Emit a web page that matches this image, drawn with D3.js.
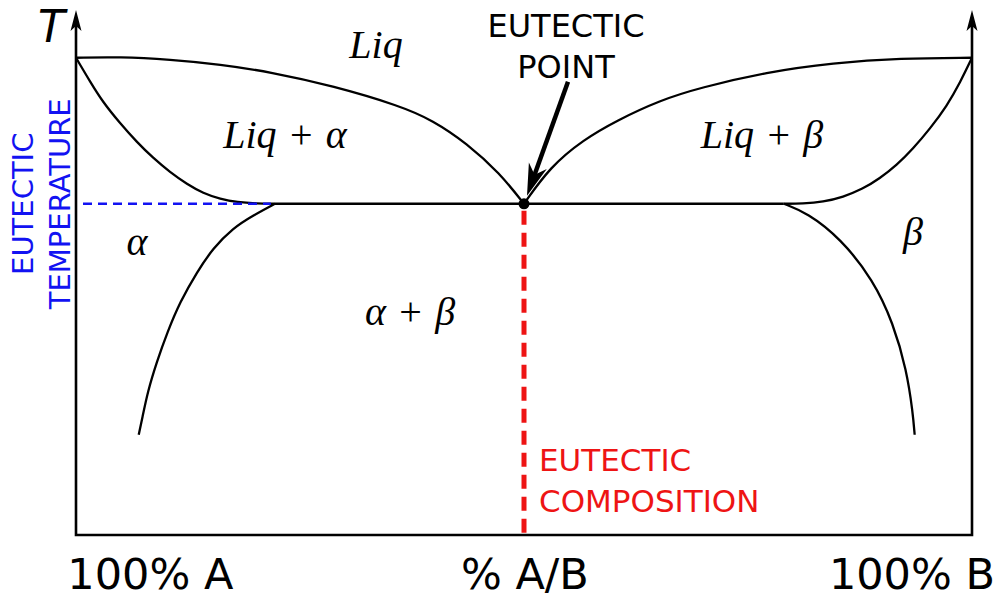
<!DOCTYPE html>
<html><head><meta charset="utf-8">
<script src="https://cdn.jsdelivr.net/npm/d3@7"></script>
<style>body{margin:0;background:#fff}svg{display:block}</style>
</head><body>
<svg id="c" width="999" height="593"></svg>
<script>
// ---- data (composition in % B, temperature in arbitrary units) ----
const compositionDomain = [0, 100];
const temperatureDomain = [0, 110];
const eutecticComposition = 50;
const eutecticTemperature = 69.4;
const leftLiquidus  = [[0,100],[4.9,100.2],[10.5,99.6],[16.1,98.6],[21.7,97.0],[28.7,94.1],[36.2,89.9],[39.8,86.9],[43.6,82.1],[47.3,75.8],[50,69.4]];
const rightLiquidus = [[50,69.4],[52.9,77.1],[56.6,82.8],[60.4,86.9],[65.2,91.1],[69.6,93.7],[77.1,97.0],[84.5,98.9],[92.0,99.9],[100,100]];
const leftSolidus   = [[0,100],[1.6,94.9],[3.0,90.7],[4.9,86.3],[6.8,82.3],[8.6,79.0],[10.5,76.0],[12.4,73.5],[14.2,71.6],[16.1,70.4],[18.0,69.7],[20.2,69.45],[22.2,69.4]];
const rightSolidus  = [[79.0,69.4],[81.1,69.45],[83.4,69.8],[85.6,70.8],[87.8,72.5],[89.7,74.7],[91.6,77.5],[93.4,80.9],[95.3,85.1],[97.2,89.9],[98.7,94.9],[100,100]];
const leftSolvus    = [[22.2,69.4],[19.8,67.0],[17.5,64.3],[15.3,60.1],[13.5,55.1],[11.6,48.8],[10.2,42.5],[9.0,36.2],[8.0,30.0],[7.4,24.5],[7.0,21.0]];
const rightSolvus   = [[79.0,69.4],[81.6,67.5],[85.3,62.2],[89.0,53.4],[91.2,44.4],[92.7,34.6],[93.4,25.6],[93.6,21.0]];
const eutecticLine  = [[22.2,69.4],[79.0,69.4]];
const xTickLabels = ["100% A", "% A/B", "100% B"];
const yAxisLabel = "T";
const regionLabels = ["Liq", "Liq + α", "Liq + β", "α", "α + β", "β"];
const eutecticPointText = ["EUTECTIC", "POINT"];
const eutecticCompositionText = ["EUTECTIC", "COMPOSITION"];
const eutecticTemperatureText = ["EUTECTIC", "TEMPERATURE"];

// ---- layout ----
const svg = d3.select("#c");
const x = d3.scaleLinear().domain(compositionDomain).range([76, 972]);
const y = d3.scaleLinear().domain(temperatureDomain).range([535, 10]);
const curveLine = d3.line().x(d => x(d[0])).y(d => y(d[1])).curve(d3.curveBasis);
const BLUE = "#1212f2", RED = "#ee1414";
const SANS = "'DejaVu Sans', Verdana, sans-serif";
const MATH = "'Liberation Serif', 'DejaVu Serif', serif";

// axes (box without top, with arrows)
const x0 = x(compositionDomain[0]), x1 = x(compositionDomain[1]);
const yb = y(temperatureDomain[0]), yt = y(temperatureDomain[1]);
svg.append("path").attr("d", `M${x0},${yt+14}L${x0},${yb}L${x1},${yb}L${x1},${yt+14}`)
  .attr("fill", "none").attr("stroke", "#000").attr("stroke-width", 2.6);
[x0, x1].forEach(ax => {
  svg.append("path").attr("d", `M${ax},${yt}L${ax-5.5},${yt+21}L${ax},${yt+16}L${ax+5.5},${yt+21}Z`).attr("fill", "#000");
});

// phase boundaries
[leftLiquidus, rightLiquidus, leftSolidus, rightSolidus, leftSolvus, rightSolvus, eutecticLine].forEach(d => {
  svg.append("path").attr("d", curveLine(d)).attr("fill", "none").attr("stroke", "#000")
    .attr("stroke-width", 2.3).attr("stroke-linejoin", "round");
});

// eutectic temperature dashed (blue)
svg.append("line").attr("x1", x0 + 7).attr("x2", x(leftSolidus[leftSolidus.length-1][0]) - 4)
  .attr("y1", y(eutecticTemperature)).attr("y2", y(eutecticTemperature))
  .attr("stroke", BLUE).attr("stroke-width", 2.4).attr("stroke-dasharray", "9,6");

// eutectic composition dashed (red)
svg.append("line").attr("x1", x(eutecticComposition)).attr("x2", x(eutecticComposition))
  .attr("y1", y(eutecticTemperature) + 7).attr("y2", yb)
  .attr("stroke", RED).attr("stroke-width", 5).attr("stroke-dasharray", "14,8");

// eutectic point
svg.append("circle").attr("cx", x(eutecticComposition)).attr("cy", y(eutecticTemperature)).attr("r", 5.5).attr("fill", "#000");

// arrow to eutectic point
(function(){
  const tx = x(eutecticComposition) + 3, ty = y(eutecticTemperature) - 8;
  const sx = tx + 41, sy = ty - 114;
  const dx = tx - sx, dy = ty - sy, L = Math.hypot(dx, dy);
  const ux = dx / L, uy = dy / L, px = -uy, py = ux;
  const hl = 32, hw = 9.5;
  const bx = tx - ux * hl, by = ty - uy * hl;
  svg.append("line").attr("x1", sx).attr("y1", sy).attr("x2", tx - ux*12).attr("y2", ty - uy*12)
    .attr("stroke", "#000").attr("stroke-width", 4.5);
  svg.append("path").attr("d",
    `M${tx},${ty}L${bx + px*hw},${by + py*hw}L${tx - ux*hl*0.7},${ty - uy*hl*0.7}L${bx - px*hw},${by - py*hw}Z`)
    .attr("fill", "#000");
})();

// axis labels
svg.append("text").attr("x", 38).attr("y", 42).text(yAxisLabel)
  .attr("font-family", SANS).attr("font-style", "italic").attr("font-size", 44).attr("fill", "#000");
const tickPos = [x(8.3), x(50.1), x(93.3)];
xTickLabels.forEach((t, i) => {
  svg.append("text").attr("x", tickPos[i]).attr("y", 589).attr("text-anchor", "middle")
    .attr("font-family", SANS).attr("font-size", 43).attr("fill", "#000").text(t);
});

// region labels (math style)
const regionPos = [[376, 58], [285, 148], [762, 148], [137, 255], [410, 325], [913, 245]];
regionLabels.forEach((t, i) => {
  const te = svg.append("text").attr("x", regionPos[i][0]).attr("y", regionPos[i][1])
    .attr("text-anchor", "middle").attr("font-family", MATH).attr("font-size", 40).attr("fill", "#000");
  t.split(/( \+ )/).forEach(part => {
    if (part === " + ") te.append("tspan").attr("font-style", "normal").text("\u2004+\u2004");
    else te.append("tspan").attr("font-style", "italic").text(part);
  });
});

// eutectic point text
eutecticPointText.forEach((t, i) => {
  svg.append("text").attr("x", 566).attr("y", 37 + i * 41).attr("text-anchor", "middle")
    .attr("font-family", SANS).attr("font-size", 32).attr("fill", "#000").text(t);
});

// eutectic composition text (red)
eutecticCompositionText.forEach((t, i) => {
  svg.append("text").attr("x", x(eutecticComposition) + 15).attr("y", 471 + i * 41)
    .attr("font-family", SANS).attr("font-size", 31).attr("fill", RED).text(t);
});

// eutectic temperature text (blue, rotated)
eutecticTemperatureText.forEach((t, i) => {
  svg.append("text").attr("transform", `translate(${33 + i * 37},${y(eutecticTemperature)}) rotate(-90)`)
    .attr("text-anchor", "middle").attr("font-family", SANS).attr("font-size", 29).attr("fill", BLUE).text(t);
});
</script>
</body></html>
